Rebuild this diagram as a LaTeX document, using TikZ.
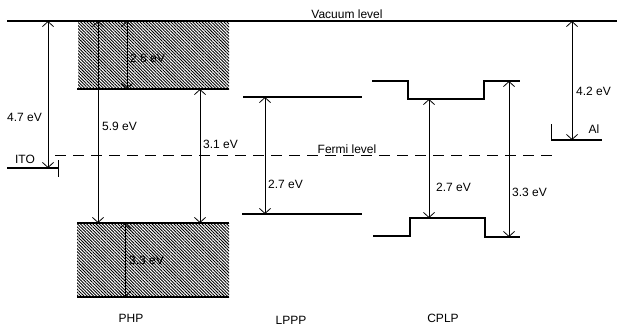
\documentclass[tikz,border=0pt]{standalone}
\usepackage{fontspec}
\setmainfont{Liberation Sans}
\usetikzlibrary{arrows.meta,patterns.meta}

\begin{document}
\begin{tikzpicture}[x=1pt,y=-1pt]
            \tikzset{level/.style = {line width=1.3pt}}
            \tikzset{gap/.style = {line width=0.8pt, {Straight Barb[length=5pt,width=11pt]}-{Straight Barb[length=5pt,width=11pt]}}}
            \tikzset{band/.style = {pattern={Lines[angle=-45,distance=2.2pt,line width=0.9pt]}}}
            \tikzset{lbl/.style = {font=\fontsize{12}{14}\selectfont, inner sep=1pt}}
            \useasboundingbox (0,0) rectangle (617,327);
            
            \fill[band] (78,21) rectangle (229,89);
            \fill[band] (77,223) rectangle (229,297);
            
            \coordinate (vacL) at (7,21);
            \coordinate (vacR) at (617,21);
            \coordinate (fermiL) at (55,155);
            \coordinate (fermiR) at (552,155);
            \draw[level] (vacL) -- (vacR);
            \draw[line width=1pt, dash pattern=on 11pt off 7pt] (fermiL) -- (fermiR);
            
            \draw[level] (7,168) -- (58,168);
            \draw[line width=1pt] (58,160) -- (58,177);
            \draw[level] (77,89) -- (229,89);
            \draw[level] (77,223) -- (229,223);
            \draw[level] (77,297) -- (229,297);
            \draw[level] (243,97) -- (362,97);
            \draw[level] (242,214) -- (362,214);
            \draw[level] (372,81) -- (408,81) -- (408,99) -- (484,99) -- (484,81) -- (520,81);
            \draw[level] (373,236) -- (410,236) -- (410,218) -- (485,218) -- (485,237) -- (520,237);
            \draw[line width=1pt] (551,124) -- (551,140);
            \draw[level] (551,140) -- (602,140);
            
            \foreach \gname/\x/\ya/\yb in {ito/48/21/168, phpa/98/21/223, phpb/127/21/89,
                    phpc/200/89/223, phpd/125/223/297, lppp/265/97/214,
                    cplpa/429/99/218, cplpb/509/81/237, al/572/21/140} {
                \coordinate (\gname t) at (\x,\ya);
                \coordinate (\gname b) at (\x,\yb);
                \draw[gap] (\gname t) -- (\gname b);
            }
            
            \node[lbl, anchor=base] (vaclbl) at (347,18) {Vacuum level};
            \node[lbl, anchor=base] (fermilbl) at (347,153) {Fermi level};
            \node[lbl] (itolbl) at (25,159) {ITO};
            \node[lbl] (allbl) at (594,129) {Al};
            \node[lbl, anchor=east] (itogap) at (43,117) {4.7 eV};
            \node[lbl, anchor=west] (phpagap) at (101,126) {5.9 eV};
            \node[lbl, anchor=west] (phpbgap) at (129,58) {2.8 eV};
            \node[lbl, anchor=west] (phpcgap) at (202,144) {3.1 eV};
            \node[lbl, anchor=west] (phpdgap) at (128,260) {3.3 eV};
            \node[lbl, anchor=west] (lpppgap) at (267,184) {2.7 eV};
            \node[lbl, anchor=west] (cplpagap) at (435,187) {2.7 eV};
            \node[lbl, anchor=west] (cplpbgap) at (511,192) {3.3 eV};
            \node[lbl, anchor=west] (algap) at (575,91) {4.2 eV};
            
            \node[lbl] (php) at (131,318) {PHP};
            \node[lbl] (lppp) at (291,320) {LPPP};
            \node[lbl] (cplp) at (443,318) {CPLP};
            
        \end{tikzpicture}
\end{document}
